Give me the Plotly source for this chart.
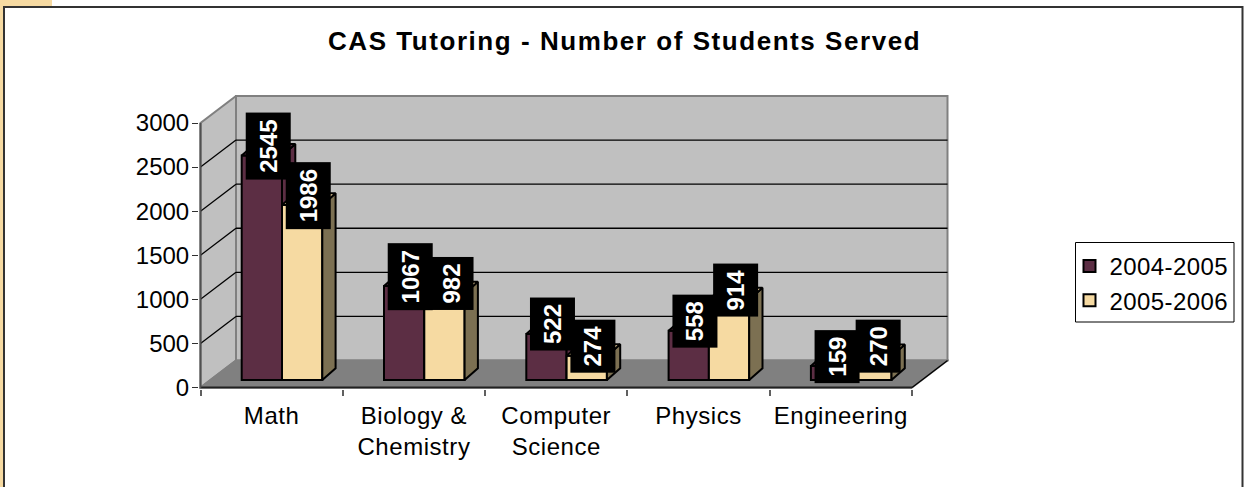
import plotly.graph_objects as go

categories = ["Math", "Biology &<br>Chemistry", "Computer<br>Science", "Physics", "Engineering"]
series_a_name = "2004-2005"
series_b_name = "2005-2006"
series_a = [2545, 1067, 522, 558, 159]
series_b = [1986, 982, 274, 914, 270]
y_ticks = [0, 500, 1000, 1500, 2000, 2500, 3000]
chart_title = "CAS Tutoring - Number of Students Served"

DARK, CREAM = "#5C2E44", "#F6DAA2"
DARK_SIDE, CREAM_SIDE = "#5C2E44", "#7C7052"
WALL, FLOOR = "#C0C0C0", "#808080"
FS = 24

# pixel frame of the plot
W, H = 1249, 487
L, R, T, B = 199.0, 949.0, 95.0, 389.0
PX_X = 142.3            # px per category
PX_Y = 264.5 / 3000     # px per unit
x_rng = [(L - 200.5) / PX_X, (R - 200.5) / PX_X]
y_rng = [(387.5 - B) / PX_Y, (387.5 - T) / PX_Y]
WDX, WDY = 35.5 / PX_X, 27 / PX_Y          # wall depth
BDX, BDY = 13.3 / PX_X, 11.7 / PX_Y        # bar depth
BASE = 7.5 / PX_Y
BW = 40.3 / PX_X
A_LEFT = 41.2 / PX_X
N = len(categories)
xa = [i + A_LEFT + BW / 2 for i in range(N)]
xb = [x + BW for x in xa]


def px(x):
    return x / (R - L) - L / (R - L)


def py(y):
    return (B - y) / (B - T)


def spaced(text, amount):
    return "<br>".join(f'<span style="letter-spacing:{amount}px">{part}</span>' for part in text.split("<br>"))


def faces(centers, values):
    side_x, side_y, top_x, top_y = [], [], [], []
    for c, v in zip(centers, values):
        r, l, t = c + BW / 2, c - BW / 2, BASE + v
        side_x += [r, r + BDX, r + BDX, r, r, None]
        side_y += [BASE, BASE + BDY, t + BDY, t, BASE, None]
        top_x += [l, l + BDX, r + BDX, r, l, None]
        top_y += [t, t + BDY, t + BDY, t, t, None]
    return side_x, side_y, top_x, top_y


def series_traces(name, centers, values, front, side, xaxis, yaxis):
    sx, sy, tx, ty = faces(centers, values)
    common = dict(mode="lines", fill="toself", line=dict(color="black", width=2),
                  hoverinfo="skip", showlegend=False, xaxis=xaxis, yaxis=yaxis)
    return [
        go.Bar(name=spaced(name, 0.4), x=centers, y=values, base=[BASE] * N, width=BW, legendgroup=name,
               marker=dict(color=front, line=dict(color="black", width=2)),
               xaxis=xaxis, yaxis=yaxis),
        go.Scatter(x=sx, y=sy, fillcolor=side, **common),
        go.Scatter(x=tx, y=ty, fillcolor=front, **common),
    ]


fig = go.Figure(series_traces(series_a_name, xa, series_a, DARK, DARK_SIDE, "x", "y")
                + series_traces(series_b_name, xb, series_b, CREAM, CREAM_SIDE, "x2", "y2"))

shapes = []


def poly(xs, ys, fill, line):
    d = "M" + "L".join(f"{a},{b}" for a, b in zip(xs, ys)) + "Z"
    shapes.append(dict(type="path", path=d, xref="x", yref="y", layer="below", fillcolor=fill,
                       line=dict(color=line, width=2)))


def seg(x0, y0, x1, y1, color="black", width=1.3):
    shapes.append(dict(type="line", xref="x", yref="y", layer="below", x0=x0, y0=y0, x1=x1, y1=y1,
                       line=dict(color=color, width=width)))


poly([WDX, N + WDX, N + WDX, WDX], [WDY, WDY, 3000 + WDY, 3000 + WDY], WALL, FLOOR)
poly([0, WDX, WDX, 0], [0, WDY, 3000 + WDY, 3000], WALL, FLOOR)
for v in y_ticks[1:-1]:
    seg(0, v, WDX, v + WDY)
    seg(WDX, v + WDY, N + WDX, v + WDY)
poly([0, N, N + WDX, WDX], [0, 0, WDY, WDY], FLOOR, FLOOR)
seg(N, 0, N + WDX, WDY)
seg(0, 0, N, 0, "#202020", 2)
seg(0, 0, 0, 3000, "#505050", 2)

# page furniture, placed in pixels through paper coordinates
for x0, y0, x1, y1, c in [(0, 0, 52, 6, "#F6DAA2"), (0, 0, 3, H, "#F6DAA2")]:
    shapes.append(dict(type="rect", xref="paper", yref="paper", x0=px(x0), x1=px(x1), y0=py(y0), y1=py(y1),
                       fillcolor=c, line_width=0, layer="below"))
for x0, y0, x1, y1 in [(4, 7, 1242.5, 7), (4, 6, 4, H), (1242.5, 6, 1242.5, H)]:
    shapes.append(dict(type="line", xref="paper", yref="paper", x0=px(x0), x1=px(x1), y0=py(y0), y1=py(y1),
                       line=dict(color="#333333", width=2), layer="above"))
shapes.append(dict(type="rect", xref="paper", yref="paper", x0=px(1075.5), x1=px(1234), y0=py(242.5), y1=py(322),
                   line=dict(color="black", width=1), fillcolor="white", layer="below"))

annotations = [dict(text=f"<b>{spaced(chart_title, 1.55)}</b>", xref="paper", yref="paper",
                    x=px(624.5), y=py(41), xanchor="center", yanchor="middle", showarrow=False,
                    font=dict(size=26, color="black"))]
for centers, values in ((xa, series_a), (xb, series_b)):
    for c, v in zip(centers, values):
        annotations.append(dict(text=f"<b>{v}</b>", x=c + 6.3 / PX_X, y=BASE + v + 9.7 / PX_Y, xref="x", yref="y",
                                showarrow=False, textangle=-90, width=66 if v >= 1000 else 52, height=44,
                                bgcolor="black", borderpad=0, align="center", valign="middle",
                                xanchor="center", yanchor="middle", font=dict(size=FS, color="white")))

axis_common = dict(automargin=False, showgrid=False, zeroline=False, showline=False)
fig.update_layout(
    template="none", width=W, height=H, barmode="overlay", paper_bgcolor="white", plot_bgcolor="rgba(0,0,0,0)",
    margin=dict(l=L, r=W - R, t=T, b=H - B, pad=0),
    font=dict(family="Liberation Sans, Arial, sans-serif", size=FS, color="black"),
    shapes=shapes, annotations=annotations,
    xaxis=dict(range=x_rng, tickvals=list(range(N + 1)), ticks="outside", ticklen=6, tickwidth=1.5,
               tickcolor="#606060", showticklabels=False, **axis_common),
    yaxis=dict(range=y_rng, tickvals=y_ticks, ticks="outside", ticklen=6, tickwidth=1.3, tickcolor="#303030",
               tickfont=dict(size=FS), ticklabelstandoff=-2, **axis_common),
    xaxis2=dict(range=x_rng, overlaying="x", side="bottom", anchor="y2", tickvals=[i + 0.5 for i in range(N)],
                ticktext=[spaced(c, 0.55) for c in categories], ticks="outside", ticklen=5,
                tickcolor="rgba(0,0,0,0)", tickfont=dict(size=FS), **axis_common),
    yaxis2=dict(range=y_rng, overlaying="y", side="left", anchor="x2", visible=False, **axis_common),
    legend=dict(x=px(1069.5), y=py(244), xanchor="left", yanchor="top", bgcolor="rgba(0,0,0,0)", borderwidth=0,
                font=dict(size=FS), tracegroupgap=9, traceorder="normal"),
    hovermode=False,
)
fig.write_html("out.html", post_script="document.body.style.margin='0';", config={"displayModeBar": False})
